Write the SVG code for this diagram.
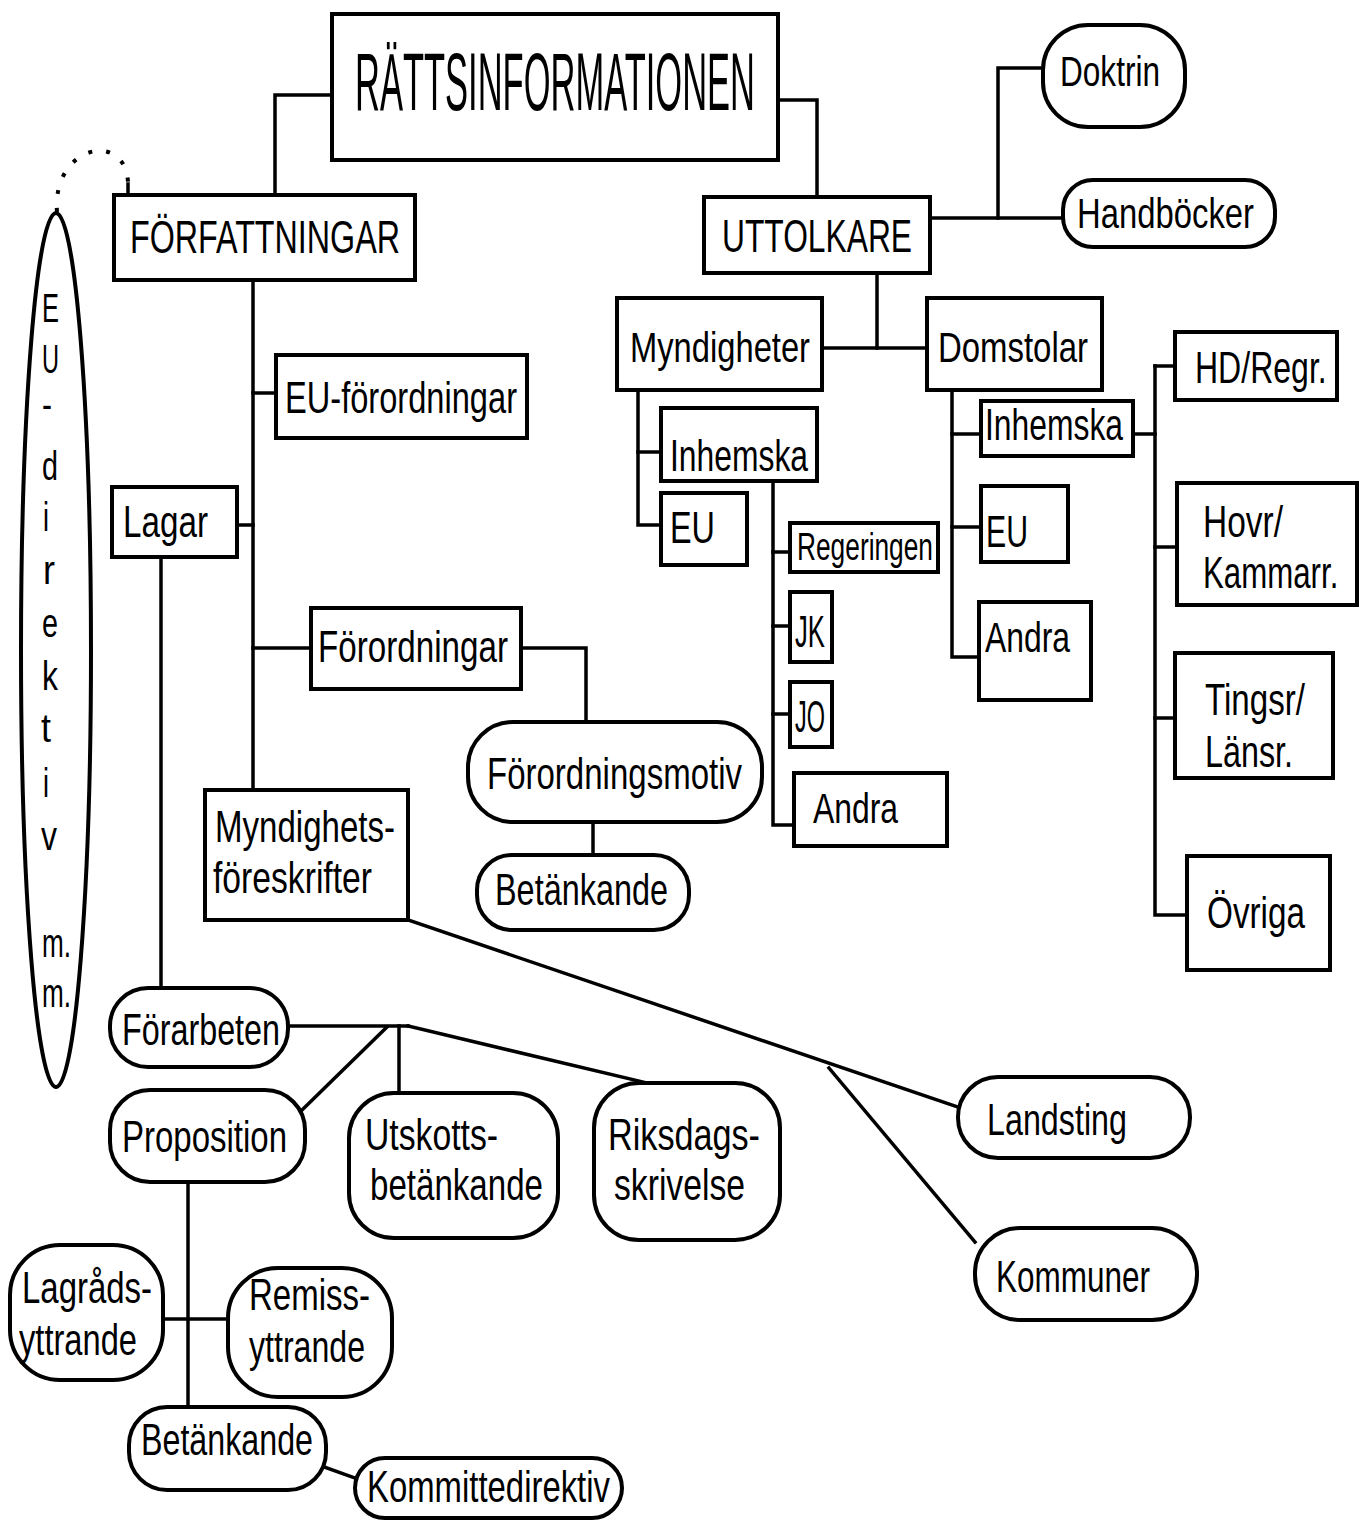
<svg xmlns="http://www.w3.org/2000/svg" width="1366" height="1522" viewBox="0 0 1366 1522">
<style>
.b{fill:#fff;stroke:#000;stroke-width:4}
.c{fill:none;stroke:#000;stroke-width:3.5;stroke-linecap:square}
text{font-family:"Liberation Sans",Arial,sans-serif;font-size:44px;fill:#000}
.v{font-size:40px}
.s42{font-size:42px}
.s46{font-size:46px}
</style>
<rect width="1366" height="1522" fill="#fff"/>
<g id="connectors">
<path class="c" d="M332,95 H275 V195"/>
<path class="c" d="M778,100 H817 V197"/>
<path class="c" d="M253,280 V790"/>
<path class="c" d="M253,393 H276"/>
<path class="c" d="M237,525 H253"/>
<path class="c" d="M253,648 H311"/>
<path class="c" d="M521,648 H586 V722"/>
<path class="c" d="M593,822 V855"/>
<path class="c" d="M161,557 V988"/>
<path class="c" d="M288,1026 H408"/>
<path class="c" d="M387,1027 L302,1110"/>
<path class="c" d="M399,1026 V1093"/>
<path class="c" d="M408,1026 L647,1083"/>
<path class="c" d="M408,920 L958,1107"/>
<path class="c" d="M829,1068 L975,1242"/>
<path class="c" d="M188,1182 V1407"/>
<path class="c" d="M162,1319 H229"/>
<path class="c" d="M324,1467 L355,1478"/>
<path class="c" d="M930,218 H1063"/>
<path class="c" d="M998,218 V68 H1043"/>
<path class="c" d="M877,273 V348"/>
<path class="c" d="M822,348 H927"/>
<path class="c" d="M638,390 V525 H661"/>
<path class="c" d="M638,452 H661"/>
<path class="c" d="M773,481 V825 H794"/>
<path class="c" d="M773,552 H790"/>
<path class="c" d="M773,626 H790"/>
<path class="c" d="M773,714 H790"/>
<path class="c" d="M952,390 V657 H979"/>
<path class="c" d="M952,434 H981"/>
<path class="c" d="M952,527 H981"/>
<path class="c" d="M1133,434 H1155"/>
<path class="c" d="M1155,366 V915 H1187"/>
<path class="c" d="M1155,366 H1175"/>
<path class="c" d="M1155,547 H1177"/>
<path class="c" d="M1155,718 H1175"/>
<path d="M57,212 C52,145 125,130 128,182" fill="none" stroke="#000" stroke-width="4" stroke-dasharray="4,14"/>
<path class="c" d="M128,184 V195"/>
</g>
<g id="eu-direktiv">
<ellipse class="b" cx="56" cy="650" rx="35" ry="437"/>
<text class="v" x="42" y="322" textLength="17" lengthAdjust="spacingAndGlyphs">E</text>
<text class="v" x="42" y="373" textLength="17" lengthAdjust="spacingAndGlyphs">U</text>
<text class="v" x="42" y="418" textLength="10" lengthAdjust="spacingAndGlyphs">-</text>
<text class="v" x="42" y="480" textLength="16" lengthAdjust="spacingAndGlyphs">d</text>
<text class="v" x="43" y="531" textLength="6" lengthAdjust="spacingAndGlyphs">i</text>
<text class="v" x="43" y="584" textLength="12" lengthAdjust="spacingAndGlyphs">r</text>
<text class="v" x="42" y="637" textLength="16" lengthAdjust="spacingAndGlyphs">e</text>
<text class="v" x="42" y="690" textLength="16" lengthAdjust="spacingAndGlyphs">k</text>
<text class="v" x="41" y="742" textLength="10" lengthAdjust="spacingAndGlyphs">t</text>
<text class="v" x="43" y="797" textLength="6" lengthAdjust="spacingAndGlyphs">i</text>
<text class="v" x="41" y="850" textLength="16" lengthAdjust="spacingAndGlyphs">v</text>
<text class="v" x="42" y="957" textLength="29" lengthAdjust="spacingAndGlyphs">m.</text>
<text class="v" x="42" y="1007" textLength="29" lengthAdjust="spacingAndGlyphs">m.</text>
</g>
<g id="rattsinformationen"><rect class="b" x="332" y="14" width="446" height="146"/><text x="355" y="110" style="font-size:81px" textLength="400" lengthAdjust="spacingAndGlyphs">RÄTTSINFORMATIONEN</text></g>
<g id="forfattningar"><rect class="b" x="114" y="195" width="301" height="85"/><text class="s46" x="130" y="253" textLength="270" lengthAdjust="spacingAndGlyphs">FÖRFATTNINGAR</text></g>
<g id="uttolkare"><rect class="b" x="704" y="197" width="226" height="76"/><text class="s46" x="722" y="252" textLength="190" lengthAdjust="spacingAndGlyphs">UTTOLKARE</text></g>
<g id="doktrin"><rect class="b" x="1043" y="25" width="142" height="102" rx="45"/><text class="s42" transform="translate(1060,86) scale(0.752,1)">Doktrin</text></g>
<g id="handbocker"><rect class="b" x="1063" y="180" width="212" height="67" rx="30"/><text class="s42" x="1077" y="228" textLength="177" lengthAdjust="spacingAndGlyphs">Handböcker</text></g>
<g id="myndigheter"><rect class="b" x="617" y="298" width="205" height="92"/><text class="s42" x="630" y="362" textLength="180" lengthAdjust="spacingAndGlyphs">Myndigheter</text></g>
<g id="domstolar"><rect class="b" x="927" y="298" width="175" height="92"/><text class="s42" x="938" y="362" textLength="150" lengthAdjust="spacingAndGlyphs">Domstolar</text></g>
<g id="inhemska-m"><rect class="b" x="661" y="408" width="156" height="73"/><text x="670" y="471" textLength="138" lengthAdjust="spacingAndGlyphs">Inhemska</text></g>
<g id="eu-m"><rect class="b" x="661" y="493" width="86" height="72"/><text x="670" y="543" textLength="45" lengthAdjust="spacingAndGlyphs">EU</text></g>
<g id="regeringen"><rect class="b" x="790" y="523" width="148" height="49"/><text x="797" y="560" style="font-size:38px" textLength="136" lengthAdjust="spacingAndGlyphs">Regeringen</text></g>
<g id="jk"><rect class="b" x="790" y="592" width="42" height="70"/><text x="795" y="647" textLength="30" lengthAdjust="spacingAndGlyphs">JK</text></g>
<g id="jo"><rect class="b" x="790" y="682" width="42" height="65"/><text x="795" y="732" textLength="30" lengthAdjust="spacingAndGlyphs">JO</text></g>
<g id="andra-m"><rect class="b" x="794" y="773" width="153" height="73"/><text class="s42" x="813" y="823" textLength="85" lengthAdjust="spacingAndGlyphs">Andra</text></g>
<g id="inhemska-d"><rect class="b" x="981" y="401" width="152" height="55"/><text x="985" y="440" textLength="138" lengthAdjust="spacingAndGlyphs">Inhemska</text></g>
<g id="eu-d"><rect class="b" x="981" y="486" width="87" height="76"/><text x="986" y="547" textLength="42" lengthAdjust="spacingAndGlyphs">EU</text></g>
<g id="andra-d"><rect class="b" x="979" y="602" width="112" height="98"/><text class="s42" x="985" y="652" textLength="85" lengthAdjust="spacingAndGlyphs">Andra</text></g>
<g id="hd-regr"><rect class="b" x="1175" y="332" width="162" height="68"/><text transform="translate(1195,383) scale(0.728,1)">HD/Regr.</text></g>
<g id="hovr"><rect class="b" x="1177" y="483" width="180" height="122"/><text x="1203" y="537" textLength="80" lengthAdjust="spacingAndGlyphs">Hovr/</text><text transform="translate(1203,588) scale(0.71,1)">Kammarr.</text></g>
<g id="tingsr"><rect class="b" x="1175" y="653" width="158" height="125"/><text x="1205" y="715" textLength="100" lengthAdjust="spacingAndGlyphs">Tingsr/</text><text x="1205" y="767" textLength="88" lengthAdjust="spacingAndGlyphs">Länsr.</text></g>
<g id="ovriga"><rect class="b" x="1187" y="856" width="143" height="114"/><text x="1207" y="928" textLength="98" lengthAdjust="spacingAndGlyphs">Övriga</text></g>
<g id="eu-forordningar"><rect class="b" x="276" y="355" width="251" height="83"/><text x="285" y="413" textLength="232" lengthAdjust="spacingAndGlyphs">EU-förordningar</text></g>
<g id="lagar"><rect class="b" x="112" y="487" width="125" height="70"/><text x="123" y="537" textLength="85" lengthAdjust="spacingAndGlyphs">Lagar</text></g>
<g id="forordningar"><rect class="b" x="311" y="608" width="210" height="81"/><text x="318" y="662" textLength="190" lengthAdjust="spacingAndGlyphs">Förordningar</text></g>
<g id="myndighetsforeskrifter"><rect class="b" x="205" y="790" width="203" height="130"/><text x="215" y="842" textLength="180" lengthAdjust="spacingAndGlyphs">Myndighets-</text><text x="213" y="893" textLength="159" lengthAdjust="spacingAndGlyphs">föreskrifter</text></g>
<g id="forordningsmotiv"><rect class="b" x="468" y="722" width="294" height="100" rx="45"/><text x="487" y="789" textLength="255" lengthAdjust="spacingAndGlyphs">Förordningsmotiv</text></g>
<g id="betankande-1"><rect class="b" x="477" y="855" width="212" height="75" rx="35"/><text x="495" y="905" textLength="173" lengthAdjust="spacingAndGlyphs">Betänkande</text></g>
<g id="forarbeten"><rect class="b" x="110" y="988" width="178" height="79" rx="38"/><text x="122" y="1045" textLength="158" lengthAdjust="spacingAndGlyphs">Förarbeten</text></g>
<g id="proposition"><rect class="b" x="110" y="1090" width="195" height="92" rx="40"/><text x="122" y="1152" textLength="165" lengthAdjust="spacingAndGlyphs">Proposition</text></g>
<g id="utskottsbetankande"><rect class="b" x="349" y="1093" width="209" height="145" rx="45"/><text x="365" y="1150" textLength="133" lengthAdjust="spacingAndGlyphs">Utskotts-</text><text x="370" y="1200" textLength="173" lengthAdjust="spacingAndGlyphs">betänkande</text></g>
<g id="riksdagsskrivelse"><rect class="b" x="594" y="1083" width="186" height="157" rx="45"/><text x="608" y="1150" textLength="152" lengthAdjust="spacingAndGlyphs">Riksdags-</text><text x="614" y="1200" textLength="131" lengthAdjust="spacingAndGlyphs">skrivelse</text></g>
<g id="landsting"><rect class="b" x="958" y="1077" width="232" height="81" rx="40"/><text x="987" y="1135" textLength="140" lengthAdjust="spacingAndGlyphs">Landsting</text></g>
<g id="kommuner"><rect class="b" x="975" y="1228" width="222" height="92" rx="45"/><text x="996" y="1292" textLength="154" lengthAdjust="spacingAndGlyphs">Kommuner</text></g>
<g id="lagradsyttrande"><rect class="b" x="10" y="1245" width="153" height="135" rx="50"/><text x="22" y="1303" textLength="130" lengthAdjust="spacingAndGlyphs">Lagråds-</text><text x="19" y="1355" textLength="118" lengthAdjust="spacingAndGlyphs">yttrande</text></g>
<g id="remissyttrande"><rect class="b" x="228" y="1268" width="164" height="129" rx="50"/><text x="249" y="1310" textLength="121" lengthAdjust="spacingAndGlyphs">Remiss-</text><text x="249" y="1362" textLength="116" lengthAdjust="spacingAndGlyphs">yttrande</text></g>
<g id="betankande-2"><rect class="b" x="129" y="1407" width="197" height="83" rx="38"/><text x="141" y="1455" textLength="172" lengthAdjust="spacingAndGlyphs">Betänkande</text></g>
<g id="kommittedirektiv"><rect class="b" x="355" y="1458" width="267" height="60" rx="30"/><text x="367" y="1502" textLength="243" lengthAdjust="spacingAndGlyphs">Kommittedirektiv</text></g>
</svg>
